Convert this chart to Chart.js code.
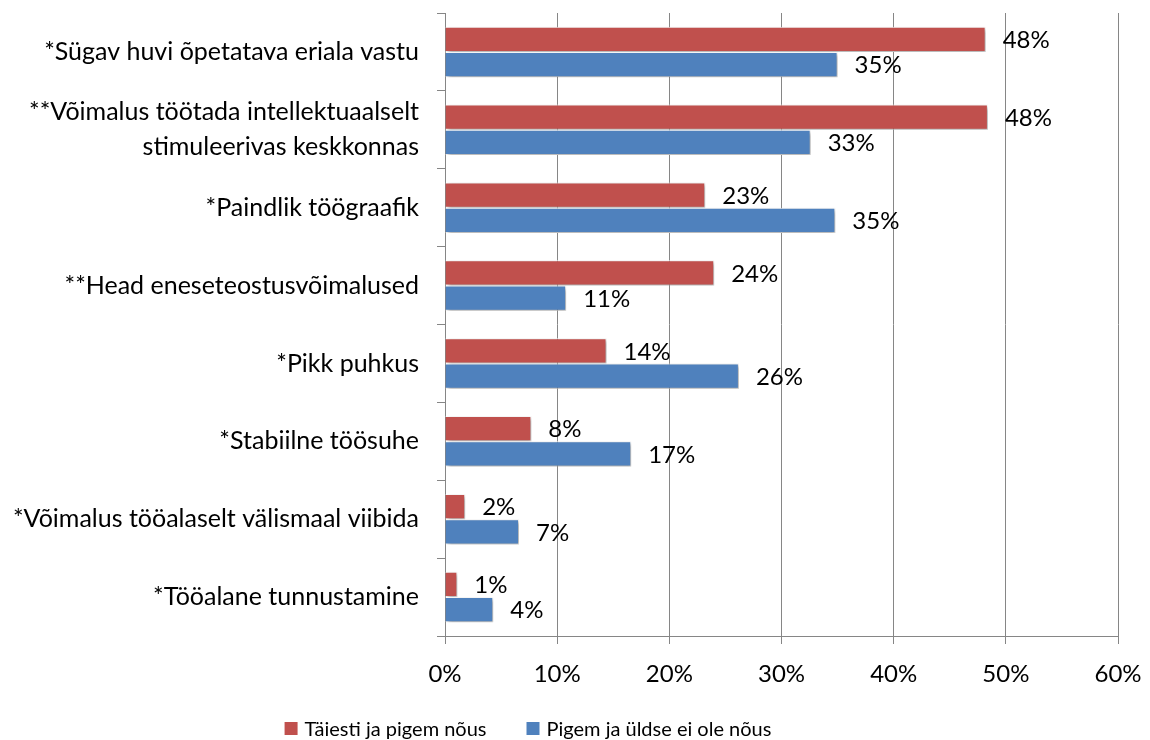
<!DOCTYPE html>
<html>
<head>
<meta charset="utf-8">
<script src="https://cdn.jsdelivr.net/npm/chart.js@4"></script>
<style>
  html, body { margin: 0; padding: 0; background: #fff; overflow: hidden; }
  #wrap { width: 1150px; height: 740px; }
</style>
</head>
<body>
<div id="wrap"><canvas id="chart"></canvas></div>
<script>
// Data
const categories = [
  "*Sügav huvi õpetatava eriala vastu",
  ["**Võimalus töötada intellektuaalselt", "stimuleerivas keskkonnas"],
  "*Paindlik töögraafik",
  "**Head eneseteostusvõimalused",
  "*Pikk puhkus",
  "*Stabiilne töösuhe",
  "*Võimalus tööalaselt välismaal viibida",
  "*Tööalane tunnustamine"
]
const agreeValues = [48.2, 48.4, 23.2, 24.0, 14.4, 7.7, 1.8, 1.1]
const disagreeValues = [35.0, 32.6, 34.8, 10.8, 26.2, 16.6, 6.6, 4.3]
const seriesNames = ["Täiesti ja pigem nõus", "Pigem ja üldse ei ole nõus"]
const xTicks = [0, 10, 20, 30, 40, 50, 60]

const FONT = "Lato, 'Open Sans', sans-serif"
const GRID = "#868686"

// Shadow under bars + value labels at bar ends
const barDecor = {
  id: "barDecor",
  beforeDatasetsDraw(chart) {
    const ctx = chart.ctx
    ctx.save()
    ctx.shadowColor = "rgba(0, 0, 0, 0.35)"
    ctx.shadowBlur = 4
    ctx.shadowOffsetX = 2
    ctx.shadowOffsetY = 2
  },
  afterDatasetsDraw(chart) {
    const ctx = chart.ctx
    ctx.restore()
    ctx.save()
    ctx.font = "24px " + FONT
    ctx.fillStyle = "#000"
    ctx.textAlign = "left"
    ctx.textBaseline = "middle"
    chart.data.datasets.forEach((ds, i) => {
      const meta = chart.getDatasetMeta(i)
      meta.data.forEach((bar, j) => {
        ctx.fillText(Math.round(ds.data[j]) + "%", bar.x + 17, bar.y + 1)
      })
    })
    ctx.restore()
  }
}

// Legend drawn below the axis, centred a bit left of the page like the original
const bottomLegend = {
  id: "bottomLegend",
  afterDraw(chart) {
    const ctx = chart.ctx
    const datasets = chart.data.datasets
    ctx.save()
    ctx.font = "20px " + FONT
    ctx.textBaseline = "middle"
    ctx.textAlign = "left"
    const box = 13
    const gap = 7
    const spacing = 40
    const widths = datasets.map((ds) => box + gap + ctx.measureText(ds.label).width)
    const total = widths.reduce((a, b) => a + b, 0) + spacing * (datasets.length - 1)
    let x = 528 - total / 2
    const y = 729
    datasets.forEach((ds, i) => {
      ctx.fillStyle = ds.backgroundColor
      ctx.fillRect(x, y - 7, box, box)
      ctx.fillStyle = "#000"
      ctx.fillText(ds.label, x + box + gap, y + 1)
      x += widths[i] + spacing
    })
    ctx.restore()
  }
}

const ctx = document.getElementById("chart").getContext("2d")
new Chart(ctx, {
  type: "bar",
  data: {
    labels: categories,
    datasets: [
      {
        label: seriesNames[0],
        data: agreeValues,
        backgroundColor: "#C0504D",
        borderColor: "#ffffff",
        borderWidth: 1,
        categoryPercentage: 0.65,
        barPercentage: 1.0
      },
      {
        label: seriesNames[1],
        data: disagreeValues,
        backgroundColor: "#4F81BD",
        borderColor: "#ffffff",
        borderWidth: 1,
        categoryPercentage: 0.65,
        barPercentage: 1.0
      }
    ]
  },
  options: {
    indexAxis: "y",
    responsive: true,
    maintainAspectRatio: false,
    animation: false,
    layout: { padding: { top: 13, right: 32, left: 0, bottom: 34 } },
    scales: {
      x: {
        min: 0,
        max: 60,
        afterBuildTicks: (scale) => {
          scale.ticks = xTicks.map((v) => ({ value: v }))
        },
        ticks: {
          color: "#000",
          font: { family: FONT, size: 24 },
          padding: 16,
          maxRotation: 0,
          callback: (v) => v + "%"
        },
        grid: { color: GRID, lineWidth: 1, tickLength: 8 },
        border: { color: GRID, width: 1 },
        afterFit: (scale) => {
          scale.height = 70
          scale.paddingLeft = 0
          scale.paddingRight = 0
        }
      },
      y: {
        ticks: {
          color: "#000",
          font: { family: FONT, size: 25, lineHeight: 1.4 },
          padding: 18
        },
        grid: { color: GRID, drawOnChartArea: false, tickLength: 8, offset: true },
        border: { color: GRID, width: 1 },
        afterFit: (scale) => {
          scale.width = 445
          scale.paddingTop = 0
          scale.paddingBottom = 0
        }
      }
    },
    plugins: {
      legend: { display: false },
      tooltip: { enabled: false }
    }
  },
  plugins: [barDecor, bottomLegend]
})
</script>
</body>
</html>
